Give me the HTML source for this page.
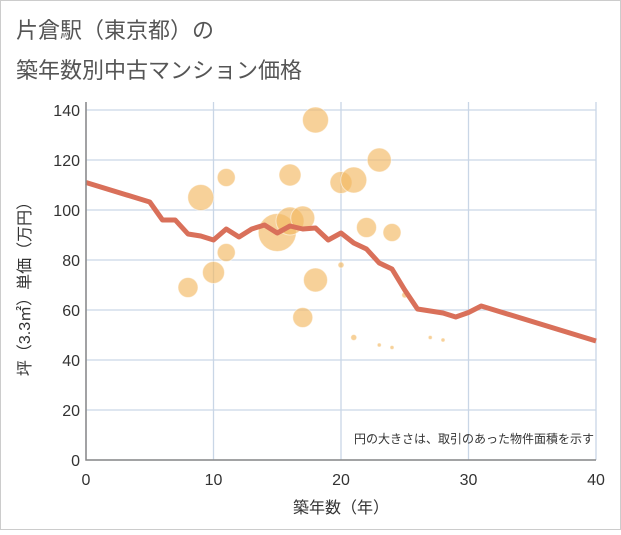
<!DOCTYPE html>
<html><head><meta charset="utf-8"><style>
body{margin:0;background:#fff;font-family:"Liberation Sans","Noto Sans CJK JP",sans-serif;}
.wrap{position:relative;width:621px;height:530px;}
</style></head><body>
<div class="wrap">
<svg width="621" height="530" xmlns="http://www.w3.org/2000/svg">
<rect x="0.5" y="0.5" width="620" height="529" fill="#fff" stroke="#ccc"/>
<text x="16" y="38" font-size="22" fill="#555" font-family="Liberation Sans,Noto Sans CJK JP,sans-serif">片倉駅（東京都）の</text>
<text x="16" y="78" font-size="22" fill="#555" font-family="Liberation Sans,Noto Sans CJK JP,sans-serif">築年数別中古マンション価格</text>
<g id="grid"></g>
<g id="bubbles"></g>
<g id="line"></g>
<g id="axes"></g>
<text x="594" y="443" font-size="12" fill="#333" text-anchor="end" font-family="Liberation Sans,Noto Sans CJK JP,sans-serif">円の大きさは、取引のあった物件面積を示す</text>
<text x="341" y="513" font-size="16" fill="#333" text-anchor="middle" font-family="Liberation Sans,Noto Sans CJK JP,sans-serif">築年数（年）</text>
<text transform="translate(30,285) rotate(-90)" font-size="16" fill="#333" text-anchor="middle" font-family="Liberation Sans,Noto Sans CJK JP,sans-serif">坪（3.3㎡）単価（万円）</text>
</svg>
<script>
const xTicks=[0,10,20,30,40];
const yTicks=[0,20,40,60,80,100,120,140];
const lineX=[0,5,6,7,8,9,10,11,12,13,14,15,16,17,18,19,20,21,22,23,24,25,26,27,28,29,30,31,40];
const lineY=[111,103.2,96,96,90.4,89.6,88,92.4,89.2,92.4,94,90.8,93.6,92.4,92.8,88,90.8,86.8,84.4,78.8,76.4,68,60.4,59.6,58.8,57.2,59,61.6,47.6];
const bubX=[8,9,10,11,11,15,16,17,16,17,18,18,20,20,21,21,22,23,23,24,24,25,27,28];
const bubY=[69,105,75,113,83,91,95.6,96.8,114,57,136,72,111,78,112,49,93,120,46,91,45,66,49,48];
const bubR=[10,13,11,9,9,19,14,12,11,10,13,12,11,3,13,3,10,12,2,9,2,3,2,2];
const NS='http://www.w3.org/2000/svg';
const X0=86,X1=596,Y0=460,Y1=110;
const sx=v=>X0+(X1-X0)*v/40;
const sy=v=>Y0-(Y0-Y1)*v/140;
function mk(t,a,p){const e=document.createElementNS(NS,t);for(const k in a)e.setAttribute(k,a[k]);p.appendChild(e);return e;}
const grid=document.getElementById('grid'),axes=document.getElementById('axes');
yTicks.forEach(v=>{
 const l=mk('line',{x1:X0,x2:X1,y1:sy(v),y2:sy(v),stroke:'#c9d6e6','stroke-width':1.3},grid);
 
 
 const t=mk('text',{x:X0-6,y:sy(v)+6,'font-size':16,fill:'#333','text-anchor':'end'},axes);
 t.textContent=v;
 
 
});
xTicks.forEach(v=>{
 const l=mk('line',{x1:sx(v),x2:sx(v),y1:Y1-8,y2:Y0,stroke:'#c9d6e6','stroke-width':1.3},grid);
 
 
 const t=mk('text',{x:sx(v),y:Y0+25,'font-size':16,fill:'#333','text-anchor':'middle'},axes);
 t.textContent=v;
 
 
});
const ax=mk('path',{d:`M${X0} ${Y1-8}V${Y0}H${X1}`,fill:'none',stroke:'#888','stroke-width':1.5},axes);


const bg=document.getElementById('bubbles');
bubX.forEach((x,i)=>{
 const c=mk('circle',{cx:sx(x),cy:sy(bubY[i]),r:bubR[i],fill:'#f2b863','fill-opacity':0.65,stroke:'#fff','stroke-opacity':0.5},bg);
 
 
});
const p=mk('polyline',{points:lineX.map((x,i)=>sx(x)+','+sy(lineY[i])).join(' '),fill:'none',stroke:'#d9705a','stroke-width':5,'stroke-linejoin':'round'},document.getElementById('line'));


</script>
</div>
</body></html>
